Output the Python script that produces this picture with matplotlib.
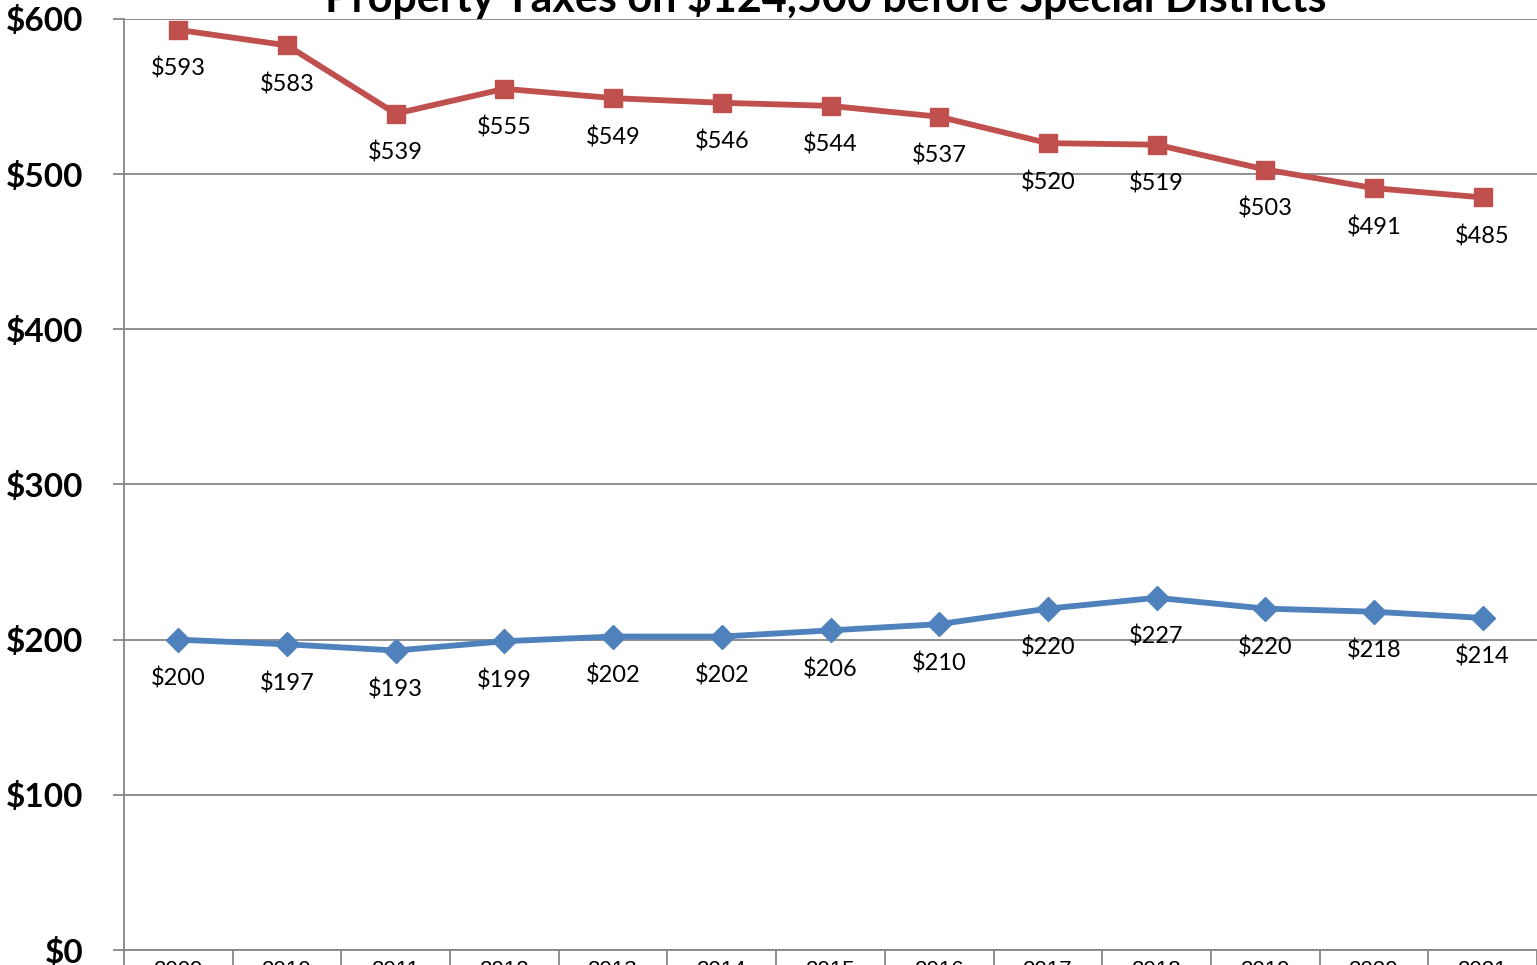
import matplotlib.pyplot as plt
from matplotlib.ticker import FixedLocator

years = ['2009', '2010', '2011', '2012', '2013', '2014', '2015',
         '2016', '2017', '2018', '2019', '2020', '2021']
upper = [593, 583, 539, 555, 549, 546, 544, 537, 520, 519, 503, 491, 485]
lower = [200, 197, 193, 199, 202, 202, 206, 210, 220, 227, 220, 218, 214]
yticks = [0, 100, 200, 300, 400, 500, 600]

red = '#C0504D'
blue = '#4F81BD'
grid = '#868686'

fig = plt.figure(figsize=(15.37, 9.65), dpi=100)
ax = fig.add_axes([124 / 1537, 1 - 950 / 965, 1 - 124 / 1537, (950 - 19) / 965])

x = list(range(len(years)))
ax.plot(x, upper, color=red, lw=4.2, marker='s', ms=13, zorder=3)
ax.plot(x, lower, color=blue, lw=4.2, marker='D', ms=12, zorder=3)

for vals in (upper, lower):
    for xi, v in zip(x, vals):
        ax.annotate('$%d' % v, (xi, v), xytext=(0, -28), textcoords='offset points',
                    ha='center', va='center', fontsize=17, family='Lato')

ax.set_xlim(-0.5, len(years) - 0.5)
ax.set_ylim(0, 600)
ax.set_yticks(yticks)
ax.set_yticklabels(['$%d' % t for t in yticks], fontsize=24, fontweight='bold', family='Lato')
ax.yaxis.grid(True, color=grid, lw=1.3)
ax.set_axisbelow(True)

ax.set_xticks(x)
ax.set_xticklabels(years, fontsize=16, family='Liberation Sans')
ax.xaxis.set_minor_locator(FixedLocator([i - 0.5 for i in range(len(years) + 1)]))
ax.tick_params(axis='x', which='major', length=0, pad=7)
ax.tick_params(axis='x', which='minor', length=20, color=grid, width=1.3)
ax.tick_params(axis='y', length=8, color=grid, width=1.3, pad=21)

for s in ('top', 'right'):
    ax.spines[s].set_visible(False)
for s in ('left', 'bottom'):
    ax.spines[s].set_color(grid)
    ax.spines[s].set_linewidth(1.3)

fig.text(826 / 1537, 1 - 12 / 965, 'Property Taxes on $124,500 before Special Districts',
         ha='center', va='baseline', fontsize=31, fontweight='bold', family='Lato')

fig.savefig('out.png', dpi=100)
